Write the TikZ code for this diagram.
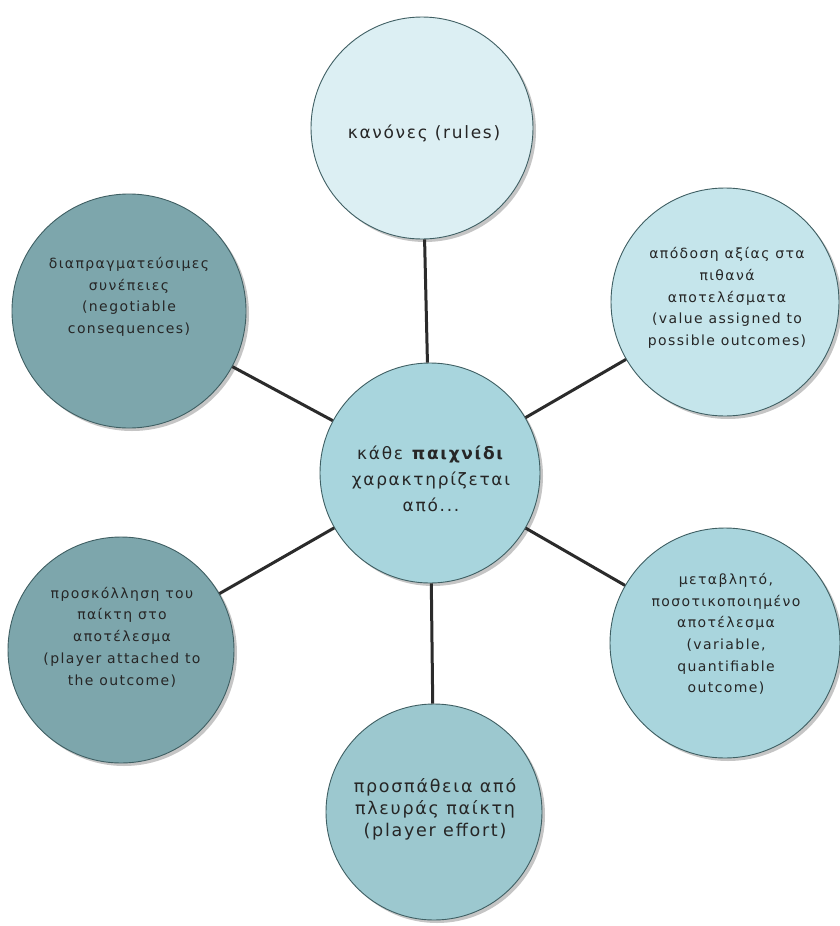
\documentclass[tikz,border=0pt]{standalone}
\usepackage{fontspec}
\setmainfont{DejaVu Sans}[LetterSpace=10]
\usetikzlibrary{shadows}
\definecolor{cRules}{HTML}{DCEFF3}
\definecolor{cDark}{HTML}{7DA6AC}
\definecolor{cVal}{HTML}{C5E5EB}
\definecolor{cCtr}{HTML}{A8D5DD}
\definecolor{cVar}{HTML}{A9D5DD}
\definecolor{cEff}{HTML}{9CC8CF}
\definecolor{cBord}{HTML}{3F5F63}
\definecolor{cLine}{HTML}{2B2B2B}
\tikzset{
  bub/.style={circle, draw=cBord, line width=0.9pt, inner sep=0pt,
    drop shadow={shadow xshift=3pt, shadow yshift=-3pt, fill=black!50, opacity=0.45}},
  txtsmall/.style={align=center, inner sep=0pt, text=black!85, font={\fontsize{14}{21.7}\selectfont}},
  txtrul/.style={align=center, inner sep=0pt, text=black!85, font={\fontsize{17}{22}\selectfont}},
  txteff/.style={align=center, inner sep=0pt, text=black!85, font={\fontsize{17.5}{22}\selectfont}},
  txtctr/.style={align=center, inner sep=0pt, text=black!85, font={\fontsize{17}{26}\selectfont}},
  conn/.style={draw=cLine, line width=3pt}
}
\begin{document}
\begin{tikzpicture}[x=1pt,y=-1pt]
\useasboundingbox (0,0) rectangle (840,926);
\fill[white] (0,0) rectangle (840,926);
% circles
\node[bub, fill=cRules, minimum size=222pt] (rules) at (422,128) {};
\node[bub, fill=cDark, minimum size=234pt] (neg) at (129,311) {};
\node[bub, fill=cVal, minimum size=228pt] (val) at (725,302) {};
\node[bub, fill=cCtr, minimum size=220pt] (ctr) at (430,473) {};
\node[bub, fill=cDark, minimum size=226pt] (att) at (121,650) {};
\node[bub, fill=cVar, minimum size=230pt] (var) at (725,643) {};
\node[bub, fill=cEff, minimum size=216pt] (eff) at (434,812) {};
% connectors
\draw[conn] (ctr) -- (rules);
\draw[conn] (ctr) -- (neg);
\draw[conn] (ctr) -- (val);
\draw[conn] (ctr) -- (att);
\draw[conn] (ctr) -- (var);
\draw[conn] (ctr) -- (eff);
% texts
\node[txtrul] (trul) at (424,133) {κανόνες (rules)};
\node[txtsmall] (tneg) at (129,297) {διαπραγματεύσιμες\\συνέπειες\\(negotiable\\consequences)};
\node[txtsmall] (tval) at (727,298) {απόδοση αξίας στα\\πιθανά\\αποτελέσματα\\(value assigned to\\possible outcomes)};
\node[txtctr] (tctr) at (431,479) {κάθε \textbf{παιχνίδι}\\χαρακτηρίζεται\\από...};
\node[txtsmall] (tatt) at (122,637) {προσκόλληση του\\παίκτη στο\\αποτέλεσμα\\(player attached to\\the outcome)};
\node[txtsmall] (tvar) at (726,634) {μεταβλητό,\\ποσοτικοποιημένο\\αποτέλεσμα\\(variable,\\quantifiable\\outcome)};
\node[txteff] (teff) at (435,809) {προσπάθεια από\\πλευράς παίκτη\\(player effort)};
\end{tikzpicture}
\end{document}
